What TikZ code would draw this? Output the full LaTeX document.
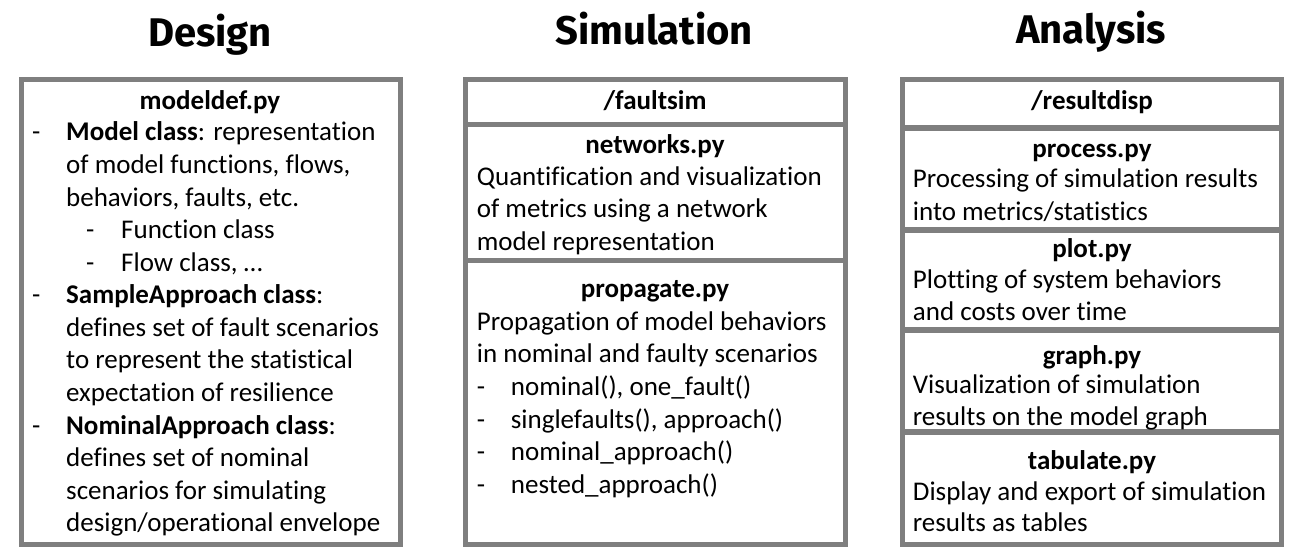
\documentclass[tikz,border=0pt]{standalone}
\usepackage{fontspec}
\setmainfont{Carlito}[Ligatures={NoCommon}]
\newfontfamily\headfont{Fira Sans}
\newcommand\bodysize{\fontsize{27}{33}\selectfont}
\definecolor{boxgray}{HTML}{7F7F7F}
\tikzset{
  boxline/.style={draw=boxgray, line width=5pt},
  sepline/.style={draw=boxgray, line width=6pt},
  txt/.style={anchor=base west, inner sep=0pt, font=\bodysize},
  ctitle/.style={anchor=base, inner sep=0pt, font=\bodysize\bfseries},
  heading/.style={anchor=base, inner sep=0pt, font=\headfont\bfseries\fontsize{40}{46}\selectfont},
}
\begin{document}
\begin{tikzpicture}[x=1pt,y=-1pt]
\useasboundingbox[fill=white] (0,0) rectangle (1301,558);
% headings
\node[heading] (hD) at (210,46) {Design};
\node[heading] (hS) at (654,44) {Simulation};
\node[heading] (hA) at (1091,43) {Analysis};
% boxes
\draw[boxline] (21.5,79.5) rectangle (400.5,544.5);
\draw[boxline] (465.5,79.5) rectangle (845.5,544.5);
\draw[boxline] (465.5,124.5) -- (845.5,124.5);
\draw[boxline] (465.5,260.5) -- (845.5,260.5);
\draw[boxline] (902.5,79.5) rectangle (1281.5,544.5);
\draw[sepline] (902.5,128) -- (1281.5,128);
\draw[sepline] (902.5,230) -- (1281.5,230);
\draw[sepline] (902.5,330) -- (1281.5,330);
\draw[sepline] (902.5,432) -- (1281.5,432);
% Design column
\node[ctitle] (d0) at (210,109) {modeldef.py};
\node[txt] (d1a) at (32,140.9) {-};
\node[txt] (d1) at (66,140.9) {\textbf{Model class}: representation};
\node[txt] (d2) at (66,173.4) {of model functions, flows,};
\node[txt] (d3) at (66,206) {behaviors, faults, etc.};
\node[txt] (d4a) at (86,238.6) {-};
\node[txt] (d4) at (121,238.6) {Function class};
\node[txt] (d5a) at (86,271.2) {-};
\node[txt] (d5) at (121,271.2) {Flow class, …};
\node[txt] (d6a) at (32,303.7) {-};
\node[txt] (d6) at (66,303.7) {\textbf{SampleApproach class}:};
\node[txt] (d7) at (66,336.3) {defines set of fault scenarios};
\node[txt] (d8) at (66,368.9) {to represent the statistical};
\node[txt] (d9) at (66,401.4) {expectation of resilience};
\node[txt] (d10a) at (32,434) {-};
\node[txt] (d10) at (66,434) {\textbf{NominalApproach class}:};
\node[txt] (d11) at (66,466.6) {defines set of nominal};
\node[txt] (d12) at (66,499.1) {scenarios for simulating};
\node[txt] (d13) at (66,531.7) {design/operational envelope};
% Simulation column
\node[ctitle] (s0) at (655,109.5) {/faultsim};
\node[ctitle] (s1) at (655,153.5) {networks.py};
\node[txt] (s2) at (476.7,185) {Quantification and visualization};
\node[txt] (s3) at (476.7,217.7) {of metrics using a network};
\node[txt] (s4) at (476.7,250) {model representation};
\node[ctitle] (s5) at (655,297.5) {propagate.py};
\node[txt] (s6) at (476.7,330) {Propagation of model behaviors};
\node[txt] (s7) at (476.7,362.7) {in nominal and faulty scenarios};
\node[txt] (s8a) at (476.7,395.5) {-};
\node[txt] (s8) at (510.7,395.5) {nominal(), one\_fault()};
\node[txt] (s9a) at (476.7,428) {-};
\node[txt] (s9) at (510.7,428) {singlefaults(), approach()};
\node[txt] (s10a) at (476.7,460.5) {-};
\node[txt] (s10) at (510.7,460.5) {nominal\_approach()};
\node[txt] (s11a) at (476.7,493) {-};
\node[txt] (s11) at (510.7,493) {nested\_approach()};
% Analysis column
\node[ctitle] (a0) at (1092,109.5) {/resultdisp};
\node[ctitle] (a1) at (1092,157) {process.py};
\node[txt] (a2) at (912.7,187.3) {Processing of simulation results};
\node[txt] (a3) at (912.7,220) {into metrics/statistics};
\node[ctitle] (a4) at (1092,257.5) {plot.py};
\node[txt] (a5) at (912.7,288.3) {Plotting of system behaviors};
\node[txt] (a6) at (912.7,320) {and costs over time};
\node[ctitle] (a7) at (1092,364) {graph.py};
\node[txt] (a8) at (912.7,393) {Visualization of simulation};
\node[txt] (a9) at (912.7,425) {results on the model graph};
\node[ctitle] (a10) at (1092,469) {tabulate.py};
\node[txt] (a11) at (912.7,500) {Display and export of simulation};
\node[txt] (a12) at (912.7,531.7) {results as tables};
\end{tikzpicture}
\end{document}
